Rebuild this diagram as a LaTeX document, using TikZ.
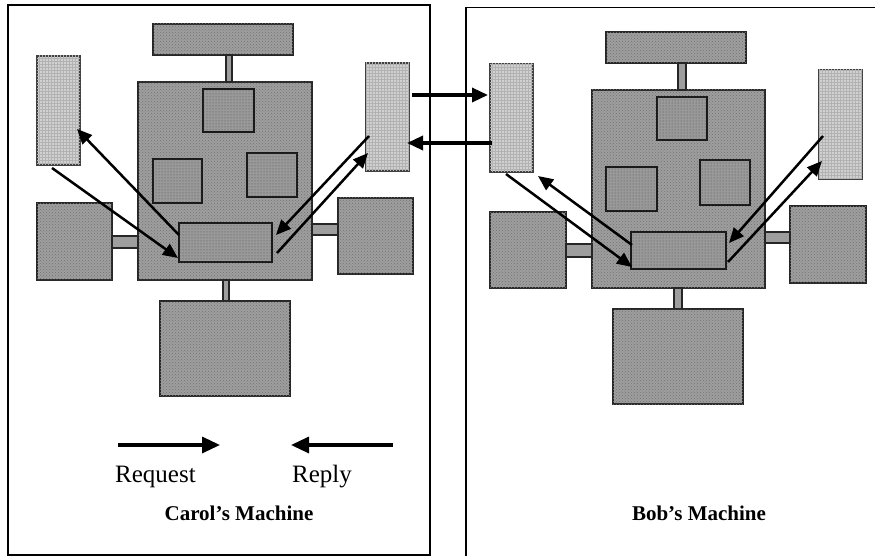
\documentclass[tikz,border=0pt]{standalone}
\usepackage{fontspec}
\setmainfont{Liberation Serif}
\usetikzlibrary{arrows.meta,fit,calc,patterns}
\begin{document}
\begin{tikzpicture}[x=1pt,y=-1pt,
  frame/.style={draw=black, line width=1.8pt},
  bigbox/.style={draw=black!85, line width=1.1pt, fill=black!38, postaction={pattern=crosshatch dots, pattern color=black!55}, inner sep=0pt, outer sep=0pt},
  lightbox/.style={draw=black!75, line width=1.1pt, fill=black!18, postaction={pattern=grid, pattern color=black!30}, inner sep=0pt, outer sep=0pt},
  innerbox/.style={draw=black!90, line width=1.1pt, fill=black!40, postaction={pattern=dots, pattern color=black!70}, inner sep=0pt, outer sep=0pt},
  stub/.style={draw=black!85, line width=1.1pt, fill=black!38, inner sep=0pt, outer sep=0pt},
  flow/.style={line width=2.5pt, -{Triangle[length=15pt,width=13pt]}},
  link/.style={line width=3.3pt, -{Triangle[length=16pt,width=14pt]}},
  legend/.style={line width=3.3pt, -{Triangle[length=18pt,width=16pt]}},
  lbl/.style={font=\fontsize{25}{28}\selectfont, inner sep=0pt, anchor=base west},
  title/.style={font=\fontsize{21}{24}\selectfont\bfseries, inner sep=0pt, anchor=base}
]
\useasboundingbox (0,0) rectangle (875,556);
\clip (0,0) rectangle (875,556);
\fill[white] (0,0) rectangle (875,556);

% frames
\node[frame, fit={(8,5) (430,555)}, inner sep=0pt] (cframe) {};
\node[frame, fit={(466,7.5) (885,570)}, inner sep=0pt] (bframe) {};

% ---------- Carol ----------
\node[bigbox, fit={(138,82) (312,280)}] (cmain) {};
\node[bigbox, fit={(153,24) (293,55)}] (ctop) {};
\node[stub, fit={(226,55) (232,82)}] (cstubT) {};
\node[innerbox, fit={(203,89) (254,132)}] (cin1) {};
\node[innerbox, fit={(153,159) (202,203)}] (cin2) {};
\node[innerbox, fit={(247,153) (297,197)}] (cin3) {};
\node[innerbox, fit={(179,223) (272,262)}] (cproc) {};
\node[lightbox, fit={(37,56) (80,165)}] (cltall) {};
\node[lightbox, fit={(366,63) (409,171)}] (crtall) {};
\node[bigbox, fit={(37,203) (112,280)}] (clbox) {};
\node[stub, fit={(112,236) (138,248)}] (cstubL) {};
\node[bigbox, fit={(338,198) (413,274)}] (crbox) {};
\node[stub, fit={(312,224) (338,235)}] (cstubR) {};
\node[stub, fit={(223,280) (229,301)}] (cstubB) {};
\node[bigbox, fit={(160,301) (290,396)}] (cbot) {};

\draw[flow] ($(cltall.south west)+(15,3)$) -- ($(cproc.south west)+(-1,-4)$);
\draw[flow] ($(cproc.north west)+(0,12)$) -- ($(cltall.south east)+(-3,-36)$);
\draw[flow] ($(crtall.north west)+(3,73)$) -- ($(cproc.north east)+(4,12)$);
\draw[flow] ($(cproc.south east)+(5,-9)$) -- ($(crtall.south west)+(2,-18)$);

% ---------- Bob ----------
\node[bigbox, fit={(592,90) (765,288)}] (bmain) {};
\node[bigbox, fit={(606,32) (746,63)}] (btop) {};
\node[stub, fit={(678,63) (686,90)}] (bstubT) {};
\node[innerbox, fit={(657,97) (707,140)}] (bin1) {};
\node[innerbox, fit={(606,167) (657,211)}] (bin2) {};
\node[innerbox, fit={(700,160) (750,205)}] (bin3) {};
\node[innerbox, fit={(631,232) (726,269)}] (bproc) {};
\node[lightbox, fit={(490,64) (533,172)}] (bltall) {};
\node[lightbox, fit={(819,70) (862,179)}] (brtall) {};
\node[bigbox, fit={(490,212) (566,288)}] (blbox) {};
\node[stub, fit={(566,244) (592,257)}] (bstubL) {};
\node[bigbox, fit={(790,206) (866,283)}] (brbox) {};
\node[stub, fit={(765,232) (790,243)}] (bstubR) {};
\node[stub, fit={(674,288) (682,309)}] (bstubB) {};
\node[bigbox, fit={(613,309) (743,404)}] (bbot) {};

\draw[flow] ($(bltall.south west)+(16,2)$) -- ($(bproc.south west)+(1,-2)$);
\draw[flow] ($(bproc.north west)+(1,13)$) -- ($(bltall.south east)+(5,4)$);
\draw[flow] ($(brtall.north west)+(4,66)$) -- ($(bproc.north east)+(3,11)$);
\draw[flow] ($(bproc.south east)+(2,-7)$) -- ($(brtall.south west)+(3,-18)$);

% ---------- links between machines ----------
\draw[link] ($(crtall.north east)+(3,32)$) -- ($(bltall.north west)+(-2,31)$);
\draw[link] ($(bltall.north west)+(2,79)$) -- ($(crtall.north east)+(-2,80)$);

% ---------- legend ----------
\coordinate (reqA) at (118,445);
\coordinate (reqB) at (220,445);
\coordinate (repA) at (393,445);
\coordinate (repB) at (291,445);
\draw[legend] (reqA) -- (reqB);
\draw[legend] (repA) -- (repB);
\node[lbl] (req) at (115,482) {Request};
\node[lbl] (rep) at (292,482) {Reply};
\node[title] (ctitle) at (239,520) {Carol’s Machine};
\node[title] (btitle) at (699,520) {Bob’s Machine};
\end{tikzpicture}
\end{document}
